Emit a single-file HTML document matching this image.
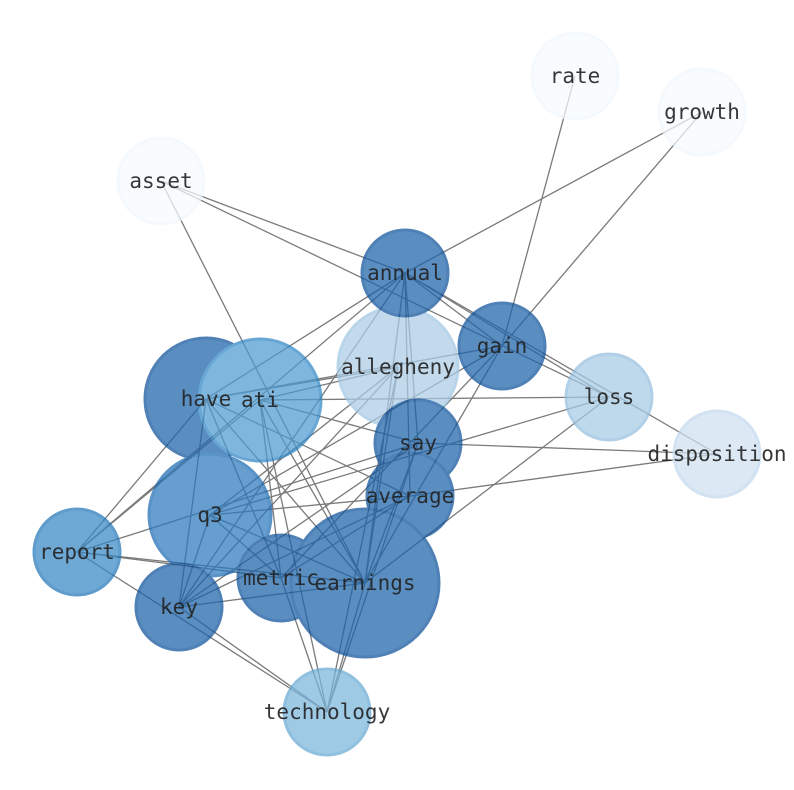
<!DOCTYPE html>
<html><head><style>body{margin:0;background:#fff}svg{display:block}</style></head><body>
<svg width="794" height="790" xmlns="http://www.w3.org/2000/svg">
<g stroke="#7a7a7a" stroke-width="1.3" fill="none">
<line x1="575" y1="76" x2="502" y2="346"/>
<line x1="702" y1="112" x2="405" y2="273"/>
<line x1="702" y1="112" x2="502" y2="346"/>
<line x1="161" y1="181" x2="405" y2="273"/>
<line x1="161" y1="181" x2="609" y2="397"/>
<line x1="161" y1="181" x2="365" y2="583"/>
<line x1="405" y1="273" x2="502" y2="346"/>
<line x1="405" y1="273" x2="609" y2="397"/>
<line x1="405" y1="273" x2="717" y2="454"/>
<line x1="405" y1="273" x2="206" y2="399"/>
<line x1="405" y1="273" x2="77" y2="552"/>
<line x1="405" y1="273" x2="179" y2="607"/>
<line x1="405" y1="273" x2="365" y2="583"/>
<line x1="405" y1="273" x2="418" y2="443"/>
<line x1="405" y1="273" x2="410" y2="496"/>
<line x1="502" y1="346" x2="206" y2="399"/>
<line x1="502" y1="346" x2="210" y2="515"/>
<line x1="502" y1="346" x2="365" y2="583"/>
<line x1="502" y1="346" x2="281" y2="578"/>
<line x1="398" y1="367" x2="206" y2="399"/>
<line x1="398" y1="367" x2="260" y2="400"/>
<line x1="398" y1="367" x2="210" y2="515"/>
<line x1="398" y1="367" x2="179" y2="607"/>
<line x1="398" y1="367" x2="365" y2="583"/>
<line x1="398" y1="367" x2="327" y2="712"/>
<line x1="609" y1="397" x2="260" y2="400"/>
<line x1="609" y1="397" x2="210" y2="515"/>
<line x1="609" y1="397" x2="365" y2="583"/>
<line x1="717" y1="454" x2="418" y2="443"/>
<line x1="717" y1="454" x2="410" y2="496"/>
<line x1="418" y1="443" x2="260" y2="400"/>
<line x1="418" y1="443" x2="77" y2="552"/>
<line x1="418" y1="443" x2="365" y2="583"/>
<line x1="418" y1="443" x2="327" y2="712"/>
<line x1="418" y1="443" x2="179" y2="607"/>
<line x1="410" y1="496" x2="210" y2="515"/>
<line x1="410" y1="496" x2="281" y2="578"/>
<line x1="410" y1="496" x2="179" y2="607"/>
<line x1="410" y1="496" x2="206" y2="399"/>
<line x1="260" y1="400" x2="365" y2="583"/>
<line x1="260" y1="400" x2="281" y2="578"/>
<line x1="260" y1="400" x2="327" y2="712"/>
<line x1="260" y1="400" x2="77" y2="552"/>
<line x1="206" y1="399" x2="365" y2="583"/>
<line x1="206" y1="399" x2="179" y2="607"/>
<line x1="206" y1="399" x2="77" y2="552"/>
<line x1="206" y1="399" x2="281" y2="578"/>
<line x1="210" y1="515" x2="365" y2="583"/>
<line x1="210" y1="515" x2="281" y2="578"/>
<line x1="210" y1="515" x2="179" y2="607"/>
<line x1="77" y1="552" x2="281" y2="578"/>
<line x1="77" y1="552" x2="365" y2="583"/>
<line x1="77" y1="552" x2="327" y2="712"/>
<line x1="179" y1="607" x2="327" y2="712"/>
<line x1="179" y1="607" x2="365" y2="583"/>
<line x1="281" y1="578" x2="327" y2="712"/>
<line x1="365" y1="583" x2="327" y2="712"/>
</g>
<g stroke-width="3" opacity="0.72">
<circle cx="575" cy="76" r="43" fill="#f7fbff" stroke="#f1f7fd"/>
<circle cx="702" cy="112" r="43" fill="#f7fbff" stroke="#f1f7fd"/>
<circle cx="161" cy="181" r="43" fill="#f7fbff" stroke="#f1f7fd"/>
<circle cx="398" cy="367" r="60" fill="#abcde6" stroke="#9ec6e2"/>
<circle cx="609" cy="397" r="43" fill="#a6cbe5" stroke="#94bfe0"/>
<circle cx="717" cy="454" r="43" fill="#cfe1f2" stroke="#c2d8ee"/>
<circle cx="405" cy="273" r="43" fill="#1c63aa" stroke="#0d519a"/>
<circle cx="502" cy="346" r="43" fill="#1c63aa" stroke="#0d519a"/>
<circle cx="206" cy="399" r="61" fill="#1c63aa" stroke="#0d519a"/>
<circle cx="260" cy="400" r="61" fill="#4d9bd0" stroke="#2f86c6"/>
<circle cx="418" cy="443" r="43" fill="#1c63aa" stroke="#0d519a"/>
<circle cx="410" cy="496" r="43" fill="#1c63aa" stroke="#0d519a"/>
<circle cx="210" cy="515" r="61" fill="#2a79bd" stroke="#1a6ab2"/>
<circle cx="77" cy="552" r="43" fill="#3688c4" stroke="#2277b9"/>
<circle cx="281" cy="578" r="43" fill="#1c63aa" stroke="#0d519a"/>
<circle cx="365" cy="583" r="74" fill="#1c63aa" stroke="#0d519a"/>
<circle cx="179" cy="607" r="43" fill="#1c63aa" stroke="#0d519a"/>
<circle cx="327" cy="712" r="43" fill="#7bb6dc" stroke="#66a9d5"/>
</g>
<g font-family="'DejaVu Sans Mono','Liberation Mono',monospace" font-size="21" fill="#222" text-anchor="middle" dominant-baseline="central" opacity="0.9">
<text x="575" y="76">rate</text>
<text x="702" y="112">growth</text>
<text x="161" y="181">asset</text>
<text x="405" y="273">annual</text>
<text x="502" y="346">gain</text>
<text x="398" y="367">allegheny</text>
<text x="609" y="397">loss</text>
<text x="717" y="454">disposition</text>
<text x="206" y="399">have</text>
<text x="260" y="400">ati</text>
<text x="418" y="443">say</text>
<text x="410" y="496">average</text>
<text x="210" y="515">q3</text>
<text x="77" y="552">report</text>
<text x="281" y="578">metric</text>
<text x="365" y="583">earnings</text>
<text x="179" y="607">key</text>
<text x="327" y="712">technology</text>
</g>
</svg>
</body></html>
